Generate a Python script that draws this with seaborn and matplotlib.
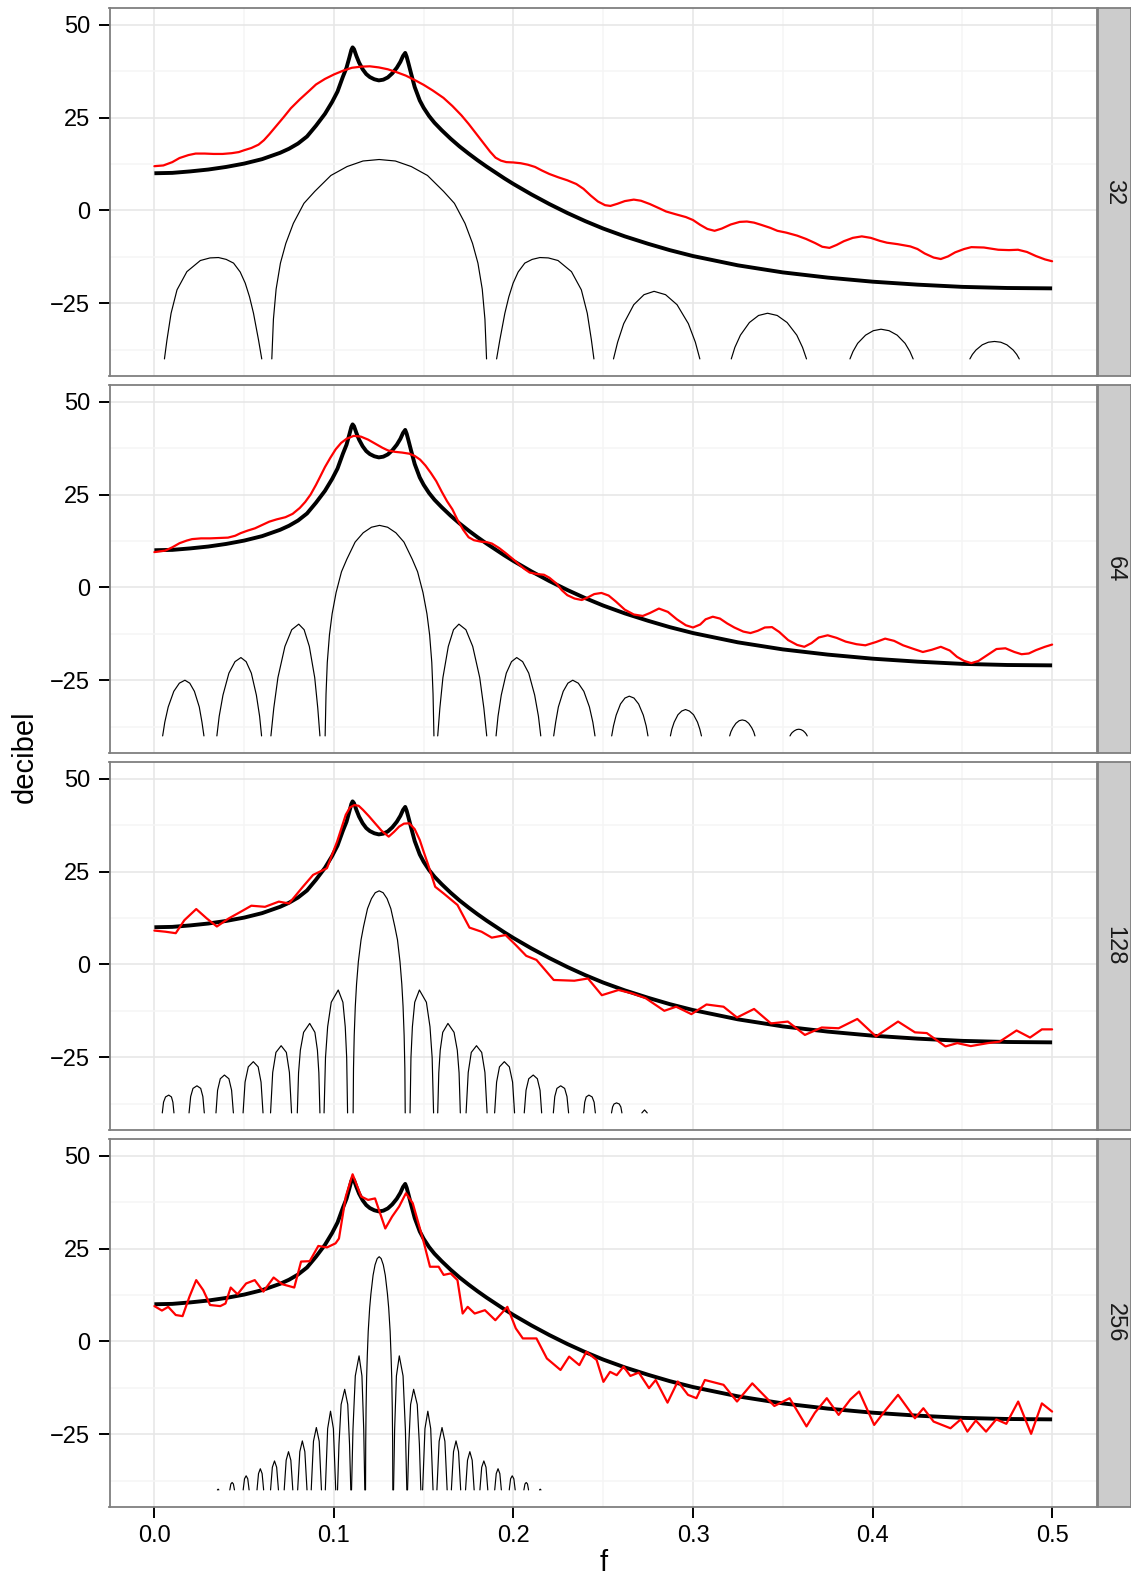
import numpy as np
import pandas as pd
import matplotlib
matplotlib.use("Agg")
import matplotlib.pyplot as plt
import seaborn as sns
from matplotlib.ticker import FixedLocator

sns.set_theme(style="white")
plt.rcParams['font.family'] = ['Liberation Sans', 'DejaVu Sans']

# ---------------- data ----------------
PANELS = ["32", "64", "128", "256"]

# true spectrum (thick black), identical in every panel
F_TRUE = [0.0, 0.01, 0.02, 0.03, 0.04, 0.05, 0.06, 0.07, 0.075, 0.08,
          0.085, 0.09, 0.095, 0.099, 0.102, 0.105, 0.107, 0.1085, 0.1097, 0.1104,
          0.1112, 0.1125, 0.114, 0.116, 0.118, 0.12, 0.1225, 0.125, 0.1275, 0.13,
          0.1325, 0.135, 0.137, 0.1385, 0.1397, 0.1405, 0.1415, 0.143, 0.145, 0.1478,
          0.15, 0.153, 0.156, 0.16, 0.165, 0.17, 0.175, 0.18, 0.185, 0.19,
          0.195, 0.2, 0.21, 0.22, 0.23, 0.24, 0.25, 0.262, 0.275, 0.287,
          0.3, 0.325, 0.35, 0.375, 0.4, 0.425, 0.45, 0.475, 0.5]
DB_TRUE = [10.0, 10.1, 10.5, 11.0, 11.7, 12.6, 13.8, 15.5, 16.6, 18.0,
           19.9, 22.8, 26.0, 29.2, 32.0, 36.0, 38.4, 41.0, 43.2, 43.9,
           43.4, 41.6, 39.8, 38.0, 36.7, 35.9, 35.3, 35.0, 35.2, 35.8,
           36.9, 38.4, 40.0, 41.6, 42.4, 41.4, 39.6, 36.8, 33.2, 29.6,
           27.6, 25.4, 23.6, 21.6, 19.3, 17.2, 15.3, 13.5, 11.8, 10.2,
           8.6, 7.1, 4.3, 1.7, -0.7, -2.9, -4.9, -7.0, -9.0, -10.7,
           -12.3, -14.8, -16.7, -18.1, -19.2, -20.0, -20.6, -20.9, -21.0]

# estimated spectra (red)
RED_F_32 = [0.0, 0.005, 0.01, 0.014, 0.019, 0.023, 0.028, 0.033, 0.038, 0.043,
            0.047, 0.05, 0.054, 0.058, 0.061, 0.064, 0.068, 0.072, 0.076, 0.081,
            0.086, 0.09, 0.095, 0.1, 0.105, 0.11, 0.115, 0.12, 0.125, 0.13,
            0.135, 0.14, 0.145, 0.15, 0.155, 0.161, 0.166, 0.171, 0.175, 0.179,
            0.183, 0.187, 0.19, 0.193, 0.196, 0.2, 0.204, 0.208, 0.212, 0.216,
            0.22, 0.225, 0.23, 0.235, 0.239, 0.243, 0.247, 0.251, 0.254, 0.258,
            0.262, 0.267, 0.271, 0.276, 0.281, 0.285, 0.29, 0.296, 0.3, 0.304,
            0.308, 0.312, 0.316, 0.321, 0.326, 0.33, 0.334, 0.338, 0.343, 0.347,
            0.352, 0.358, 0.363, 0.368, 0.372, 0.376, 0.38, 0.384, 0.389, 0.394,
            0.399, 0.404, 0.408, 0.414, 0.421, 0.425, 0.429, 0.434, 0.438, 0.442,
            0.446, 0.451, 0.455, 0.462, 0.47, 0.476, 0.481, 0.486, 0.491, 0.496, 0.5]
RED_DB_32 = [11.9, 12.1, 13.0, 14.1, 14.9, 15.3, 15.3, 15.2, 15.2, 15.4,
             15.7, 16.2, 16.8, 17.7, 18.9, 20.5, 22.8, 25.1, 27.5, 29.9,
             32.1, 33.9, 35.4, 36.6, 37.6, 38.4, 38.7, 38.8, 38.5, 38.0,
             37.2, 36.3, 35.1, 33.8, 32.3, 30.3, 28.1, 25.6, 23.3, 20.8,
             18.3, 15.8, 14.2, 13.4, 13.0, 12.9, 12.7, 12.3, 11.7, 10.7,
             9.8, 8.9, 8.1, 7.1, 5.8, 4.0, 2.4, 1.4, 1.2, 1.8,
             2.5, 2.9, 2.6, 1.7, 0.6, -0.3, -1.0, -1.8, -2.6, -3.9,
             -5.0, -5.5, -4.9, -3.8, -3.1, -3.0, -3.3, -3.9, -4.7, -5.5,
             -6.0, -6.8, -7.7, -8.8, -9.8, -10.1, -9.3, -8.3, -7.4, -7.0,
             -7.4, -8.2, -8.7, -9.1, -9.7, -10.4, -11.6, -12.7, -13.1, -12.4,
             -11.3, -10.4, -9.9, -10.0, -10.6, -10.7, -10.6, -11.2, -12.3, -13.2, -13.7]

RED_F_64 = [0.0, 0.006, 0.01, 0.014, 0.018, 0.021, 0.026, 0.031, 0.036, 0.041,
            0.045, 0.048, 0.052, 0.056, 0.06, 0.064, 0.068, 0.073, 0.077, 0.081,
            0.084, 0.087, 0.09, 0.092, 0.095, 0.098, 0.101, 0.104, 0.107, 0.111,
            0.115, 0.119, 0.123, 0.127, 0.13, 0.134, 0.138, 0.142, 0.145, 0.148,
            0.151, 0.154, 0.157, 0.16, 0.163, 0.166, 0.169, 0.172, 0.175, 0.178,
            0.182, 0.185, 0.188, 0.192, 0.196, 0.2, 0.203, 0.206, 0.209, 0.213,
            0.217, 0.22, 0.224, 0.227, 0.23, 0.234, 0.238, 0.241, 0.245, 0.249,
            0.253, 0.257, 0.262, 0.267, 0.272, 0.276, 0.281, 0.286, 0.291, 0.296,
            0.3, 0.304, 0.307, 0.311, 0.315, 0.319, 0.323, 0.328, 0.332, 0.336,
            0.34, 0.344, 0.348, 0.353, 0.358, 0.362, 0.366, 0.37, 0.375, 0.38,
            0.385, 0.391, 0.396, 0.402, 0.407, 0.412, 0.417, 0.423, 0.428, 0.433,
            0.438, 0.443, 0.447, 0.451, 0.455, 0.459, 0.464, 0.469, 0.474, 0.479,
            0.483, 0.487, 0.491, 0.496, 0.5]
RED_DB_64 = [9.5, 9.9, 10.8, 11.9, 12.6, 13.0, 13.2, 13.2, 13.3, 13.4,
             13.9, 14.6, 15.3, 15.9, 16.8, 17.7, 18.3, 18.9, 19.8, 21.4,
             23.0, 25.0, 27.6, 29.5, 32.4, 34.9, 37.2, 38.9, 40.0, 40.8,
             40.6, 39.8, 38.7, 37.6, 36.9, 36.5, 36.3, 36.0, 35.4, 34.4,
             32.8, 30.8, 28.6, 25.8, 23.2, 21.0, 18.0, 15.5, 13.5, 12.7,
             12.3, 12.2, 11.8, 10.6, 9.1, 7.5, 6.2, 5.0, 4.0, 3.6,
             3.4, 2.6, 1.0, -0.8, -2.1, -3.0, -3.4, -2.8, -1.8, -1.5,
             -2.2, -3.8, -6.0, -7.3, -7.7, -6.9, -5.7, -6.6, -8.6, -10.2,
             -10.8, -10.0, -8.6, -7.9, -8.4, -9.7, -10.8, -11.9, -12.3, -11.7,
             -10.8, -10.7, -12.0, -14.2, -15.5, -16.0, -15.0, -13.5, -12.9, -13.6,
             -14.6, -15.3, -15.6, -14.7, -13.8, -14.4, -15.6, -16.6, -17.4, -16.8,
             -16.0, -17.0, -18.7, -19.8, -20.4, -19.8, -18.2, -16.6, -16.4, -17.4,
             -18.0, -17.8, -16.9, -16.0, -15.4]

RED_F_128 = [0.0, 0.0061, 0.0119, 0.0167, 0.0233, 0.0291, 0.0348, 0.0415, 0.0482, 0.054,
             0.0616, 0.0693, 0.075, 0.0827, 0.0884, 0.0961, 0.1018, 0.1066, 0.109, 0.1114,
             0.1138, 0.1162, 0.1195, 0.1229, 0.1265, 0.1305, 0.1335, 0.1363, 0.139, 0.142,
             0.145, 0.1478, 0.150, 0.1525, 0.1564, 0.1611, 0.1688, 0.1755,
             0.1822, 0.1879, 0.1956, 0.2013, 0.2071, 0.2128, 0.2224, 0.2339, 0.2415, 0.2492,
             0.2585, 0.266, 0.2736, 0.284, 0.2906, 0.2991, 0.3075, 0.317, 0.3245, 0.334,
             0.3434, 0.3528, 0.3623, 0.3717, 0.3811, 0.3915, 0.4019, 0.4142, 0.4236, 0.4302,
             0.4406, 0.4472, 0.4547, 0.4642, 0.4708, 0.4802, 0.4877, 0.4943, 0.5]
RED_DB_128 = [9.1, 8.8, 8.4, 11.9, 14.9, 12.4, 10.2, 12.4, 14.2, 15.8,
              15.5, 16.9, 16.4, 20.9, 24.1, 25.9, 33.1, 40.3, 42.3, 42.9,
              42.7, 41.6, 39.9, 38.0, 36.0, 34.4, 35.7, 37.1, 37.9, 38.0,
              36.4, 33.5, 30.3, 26.8, 20.9, 19.1, 16.0, 9.9,
              8.8, 7.2, 7.9, 5.2, 2.3, 1.2, -4.2, -4.4, -3.8, -8.3,
              -6.9, -7.8, -9.1, -12.5, -11.4, -13.4, -10.8, -11.4, -14.3, -12.0,
              -15.9, -15.4, -19.0, -17.0, -17.2, -14.7, -19.4, -15.4, -18.3, -18.5,
              -22.1, -21.2, -22.0, -21.2, -20.8, -17.8, -19.7, -17.5, -17.5]

RED_F_256 = [0.0, 0.0042, 0.0077, 0.0119, 0.0157, 0.0195, 0.0233, 0.0272, 0.031, 0.0367,
             0.0396, 0.0425, 0.0463, 0.0511, 0.0559, 0.0607, 0.0664, 0.0712, 0.0779, 0.0817,
             0.0865, 0.0913, 0.0961, 0.1009, 0.1028, 0.1066, 0.1104, 0.1152, 0.119, 0.1229,
             0.1286, 0.1324, 0.1363, 0.1401, 0.1439, 0.1497, 0.1535, 0.1583, 0.1611, 0.165,
             0.1688, 0.1717, 0.1745, 0.1784, 0.1841, 0.1899, 0.1966, 0.2013, 0.2052, 0.2128,
             0.2186, 0.2262, 0.231, 0.2367, 0.2406, 0.2463, 0.2501, 0.2538, 0.2575, 0.2613,
             0.2651, 0.2698, 0.2755, 0.2792, 0.2858, 0.2915, 0.2972, 0.3019, 0.3066, 0.317,
             0.3245, 0.333, 0.3453, 0.3538, 0.3632, 0.3679, 0.3745, 0.3811, 0.3877, 0.3925,
             0.4009, 0.4066, 0.4142, 0.4236, 0.4283, 0.434, 0.4434, 0.4491, 0.4528, 0.4575,
             0.4632, 0.4689, 0.4745, 0.4811, 0.4883, 0.4943, 0.5]
RED_DB_256 = [9.5, 8.3, 9.3, 7.1, 6.8, 12.0, 16.5, 13.8, 9.8, 9.5,
              10.2, 14.5, 12.7, 15.6, 16.5, 13.4, 17.2, 15.4, 14.5, 21.5,
              21.6, 25.7, 25.3, 26.4, 27.7, 39.0, 45.0, 39.0, 38.1, 38.5,
              30.4, 33.6, 36.3, 39.9, 37.2, 27.3, 20.1, 20.1, 17.9, 18.3,
              16.5, 7.5, 9.3, 7.5, 8.4, 5.7, 9.3, 3.5, 0.8, 0.8,
              -4.6, -7.7, -4.1, -6.4, -2.8, -5.0, -10.9, -8.2, -9.1, -6.8,
              -9.3, -8.4, -12.6, -10.4, -16.5, -10.8, -14.4, -15.3, -10.4, -11.7,
              -16.2, -11.3, -17.4, -15.3, -22.9, -19.2, -15.3, -19.8, -15.6, -13.5,
              -22.5, -18.9, -14.4, -20.7, -18.0, -21.6, -23.4, -21.0, -24.3, -21.3,
              -24.3, -21.0, -22.2, -16.2, -24.9, -16.7, -18.9]

# spectral-window lobes (thin black), each lobe as (f, decibel) points, clipped at -40
KERNEL_32 = [
    [(0.0056, -40), (0.0070, -34.9), (0.0093, -27.7), (0.0126, -21.4), (0.0181, -16.5), (0.0256, -13.5),
     (0.0310, -12.8), (0.0357, -12.7), (0.0400, -13.2), (0.0441, -14.2), (0.0478, -16.6), (0.0506, -19.6),
     (0.0530, -23.3), (0.0552, -27.7), (0.0580, -34.9), (0.0598, -40)],
    [(0.0654, -40), (0.0663, -29.3), (0.0678, -21.2), (0.0702, -14.2), (0.0732, -8.9), (0.0774, -3.5),
     (0.0833, 1.9), (0.0893, 5.1), (0.0983, 9.4), (0.1073, 11.8), (0.1162, 13.3), (0.1252, 13.7),
     (0.1342, 13.3), (0.1431, 11.8), (0.1521, 9.4), (0.1611, 5.1), (0.1671, 1.9), (0.1730, -3.5),
     (0.1772, -8.9), (0.1802, -14.2), (0.1826, -21.2), (0.1841, -29.3), (0.1850, -40)],
    [(0.1906, -40), (0.1924, -34.9), (0.1952, -27.7), (0.1974, -23.3), (0.1998, -19.6), (0.2026, -16.6),
     (0.2063, -14.2), (0.2104, -13.2), (0.2147, -12.7), (0.2194, -12.8), (0.2248, -13.5), (0.2323, -16.5),
     (0.2378, -21.4), (0.2411, -27.7), (0.2434, -34.9), (0.2448, -40)],
    [(0.2557, -40), (0.2580, -35.5), (0.2614, -30.5), (0.2670, -25.4), (0.2727, -22.7), (0.2783, -21.8),
     (0.2847, -22.7), (0.2911, -25.4), (0.2974, -30.5), (0.3013, -35.5), (0.3038, -40)],
    [(0.3213, -40), (0.3233, -36.9), (0.3264, -33.6), (0.3314, -30.2), (0.3365, -28.3), (0.3415, -27.7),
     (0.3469, -28.3), (0.3524, -30.2), (0.3578, -33.6), (0.3610, -36.9), (0.3632, -40)],
    [(0.3874, -40), (0.3891, -38.0), (0.3917, -35.8), (0.3961, -33.6), (0.4004, -32.4), (0.4047, -32.0),
     (0.4092, -32.4), (0.4137, -33.6), (0.4181, -35.8), (0.4208, -38.0), (0.4226, -40)],
    [(0.4542, -40), (0.4556, -38.8), (0.4576, -37.6), (0.4611, -36.2), (0.4645, -35.5), (0.4679, -35.3),
     (0.4714, -35.5), (0.4748, -36.2), (0.4783, -37.6), (0.4803, -38.8), (0.4817, -40)],
]

KERNEL_64 = [
    [(0.0046, -40), (0.0058, -36.3), (0.0077, -32.2), (0.0108, -28.0), (0.0139, -25.8), (0.0170, -25.0),
     (0.0197, -25.8), (0.0223, -28.0), (0.0250, -32.2), (0.0265, -36.3), (0.0276, -40)],
    [(0.0348, -40), (0.0361, -34.7), (0.0382, -29.0), (0.0415, -23.1), (0.0449, -20.0), (0.0482, -18.9),
     (0.0511, -20.0), (0.0540, -23.1), (0.0568, -29.0), (0.0586, -34.7), (0.0597, -40)],
    [(0.0649, -40), (0.0665, -32.5), (0.0688, -24.3), (0.0727, -15.9), (0.0765, -11.4), (0.0804, -9.9),
     (0.0834, -11.4), (0.0863, -15.9), (0.0893, -24.3), (0.0910, -32.5), (0.0922, -40)],
    [(0.0951, -40), (0.0956, -28.7), (0.0963, -20.2), (0.0975, -12.8), (0.0990, -7.1), (0.1012, -1.4),
     (0.1042, 4.2), (0.1072, 7.6), (0.1118, 12.2), (0.1163, 14.7), (0.1209, 16.2), (0.1254, 16.7),
     (0.1299, 16.2), (0.1345, 14.7), (0.1390, 12.2), (0.1436, 7.6), (0.1466, 4.2), (0.1496, -1.4),
     (0.1518, -7.1), (0.1533, -12.8), (0.1545, -20.2), (0.1552, -28.7), (0.1557, -40)],
    [(0.1578, -40), (0.1590, -32.5), (0.1607, -24.3), (0.1637, -15.9), (0.1666, -11.4), (0.1696, -9.9),
     (0.1735, -11.4), (0.1773, -15.9), (0.1812, -24.3), (0.1835, -32.5), (0.1851, -40)],
    [(0.1903, -40), (0.1914, -34.7), (0.1932, -29.0), (0.1960, -23.1), (0.1989, -20.0), (0.2018, -18.9),
     (0.2051, -20.0), (0.2085, -23.1), (0.2118, -29.0), (0.2139, -34.7), (0.2152, -40)],
    [(0.2224, -40), (0.2235, -36.3), (0.2250, -32.2), (0.2277, -28.0), (0.2303, -25.8), (0.2330, -25.0),
     (0.2361, -25.8), (0.2392, -28.0), (0.2423, -32.2), (0.2442, -36.3), (0.2454, -40)],
    [(0.2547, -40), (0.2557, -37.3), (0.2572, -34.4), (0.2596, -31.4), (0.2621, -29.8), (0.2645, -29.3),
     (0.2671, -29.8), (0.2697, -31.4), (0.2723, -34.4), (0.2739, -37.3), (0.2749, -40)],
    [(0.2874, -40), (0.2882, -38.2), (0.2895, -36.3), (0.2916, -34.3), (0.2937, -33.3), (0.2958, -32.9),
     (0.2980, -33.3), (0.3003, -34.3), (0.3025, -36.3), (0.3038, -38.2), (0.3047, -40)],
    [(0.3204, -40), (0.3211, -38.9), (0.3222, -37.8), (0.3239, -36.6), (0.3257, -35.9), (0.3274, -35.7),
     (0.3292, -35.9), (0.3310, -36.6), (0.3327, -37.8), (0.3338, -38.9), (0.3345, -40)],
    [(0.3540, -40), (0.3545, -39.55), (0.3552, -39.1), (0.3565, -38.6), (0.3577, -38.3), (0.3589, -38.2),
     (0.3601, -38.3), (0.3613, -38.6), (0.3624, -39.1), (0.3631, -39.55), (0.3636, -40)],
]

KERNEL_128 = [
    [(0.0044, -40), (0.0051, -37.1), (0.0062, -35.7), (0.0080, -35.2), (0.0095, -35.7), (0.0103, -37.1), (0.0109, -40)],
    [(0.0193, -40), (0.0202, -35.6), (0.0215, -33.4), (0.0237, -32.7), (0.0258, -33.4), (0.0270, -35.6), (0.0278, -40)],
    [(0.0343, -40), (0.0352, -33.9), (0.0367, -30.8), (0.0390, -29.8), (0.0415, -30.8), (0.0430, -33.9), (0.0440, -40)],
    [(0.0494, -40), (0.0505, -31.7), (0.0523, -27.6), (0.0551, -26.2), (0.0578, -27.6), (0.0594, -31.7), (0.0605, -40)],
    [(0.0647, -40), (0.0659, -29.1), (0.0677, -23.7), (0.0706, -21.9), (0.0735, -23.7), (0.0752, -29.1), (0.0764, -40)],
    [(0.0796, -40), (0.0803, -29.2), (0.0813, -23.1), (0.0831, -18.3), (0.0865, -15.9), (0.0894, -18.3),
     (0.0908, -23.1), (0.0916, -29.2), (0.0922, -40)],
    [(0.0945, -40), (0.0953, -25.1), (0.0965, -16.8), (0.0985, -10.2), (0.1024, -6.9), (0.1050, -10.2),
     (0.1063, -16.8), (0.1071, -25.1), (0.1076, -40)],
    [(0.1107, -40), (0.1109, -28.0), (0.1113, -19.1), (0.1119, -11.3), (0.1126, -5.3), (0.1136, 0.7),
     (0.1151, 6.6), (0.1165, 10.2), (0.1187, 15.0), (0.1209, 17.7), (0.1230, 19.3), (0.1252, 19.8),
     (0.1274, 19.3), (0.1296, 17.7), (0.1317, 15.0), (0.1339, 10.2), (0.1354, 6.6), (0.1368, 0.7),
     (0.1378, -5.3), (0.1385, -11.3), (0.1391, -19.1), (0.1395, -28.0), (0.1397, -40)],
    [(0.1424, -40), (0.1429, -25.1), (0.1437, -16.8), (0.1450, -10.2), (0.1476, -6.9), (0.1515, -10.2),
     (0.1535, -16.8), (0.1547, -25.1), (0.1555, -40)],
    [(0.1578, -40), (0.1584, -29.2), (0.1592, -23.1), (0.1606, -18.3), (0.1635, -15.9), (0.1669, -18.3),
     (0.1687, -23.1), (0.1697, -29.2), (0.1704, -40)],
    [(0.1736, -40), (0.1748, -29.1), (0.1765, -23.7), (0.1794, -21.9), (0.1823, -23.7), (0.1841, -29.1), (0.1853, -40)],
    [(0.1895, -40), (0.1906, -31.7), (0.1922, -27.6), (0.1949, -26.2), (0.1977, -27.6), (0.1995, -31.7), (0.2006, -40)],
    [(0.2060, -40), (0.2070, -33.9), (0.2085, -30.8), (0.2110, -29.8), (0.2133, -30.8), (0.2148, -33.9), (0.2157, -40)],
    [(0.2222, -40), (0.2230, -35.6), (0.2242, -33.4), (0.2263, -32.7), (0.2285, -33.4), (0.2298, -35.6), (0.2307, -40)],
    [(0.2391, -40), (0.2397, -37.1), (0.2405, -35.7), (0.2420, -35.2), (0.2438, -35.7), (0.2449, -37.1), (0.2456, -40)],
    [(0.2546, -40), (0.2552, -38.4), (0.2560, -37.6), (0.2574, -37.3), (0.2589, -37.6), (0.2598, -38.4), (0.2604, -40)],
    [(0.2715, -40), (0.2730, -39.2), (0.2745, -40)],
]

KERNEL_256 = [
    [(0.0351, -40), (0.0355, -39.8), (0.0359, -40)],
    [(0.0420, -40), (0.0426, -38.4), (0.0433, -38.0), (0.0440, -38.4), (0.0446, -40)],
    [(0.04945, -40), (0.0502, -37.0), (0.0511, -36.2), (0.0520, -37.0), (0.05275, -40)],
    [(0.05715, -40), (0.0580, -35.6), (0.0590, -34.3), (0.0600, -35.6), (0.06085, -40)],
    [(0.0647, -40), (0.0657, -33.9), (0.0669, -32.2), (0.0681, -33.9), (0.0691, -40)],
    [(0.0723, -40), (0.0734, -32.0), (0.0747, -29.7), (0.0760, -32.0), (0.0771, -40)],
    [(0.0798, -40), (0.0810, -29.7), (0.0824, -26.8), (0.0838, -29.7), (0.0850, -40)],
    [(0.08735, -40), (0.0886, -26.9), (0.0902, -23.2), (0.0918, -26.9), (0.09305, -40)],
    [(0.0952, -40), (0.0965, -23.5), (0.0981, -18.8), (0.0997, -23.5), (0.1010, -40)],
    [(0.1020, -40), (0.1028, -27.8), (0.1040, -17.0), (0.1060, -12.9), (0.1077, -17.0), (0.1087, -27.8), (0.1094, -40)],
    [(0.1098, -40), (0.1106, -23.8), (0.1119, -9.3), (0.1140, -3.9), (0.1156, -9.3), (0.1166, -23.8), (0.1172, -40)],
    [(0.1176, -40), (0.1177, -27.4), (0.1179, -18.0), (0.1182, -9.9), (0.1186, -3.6), (0.1191, 2.7),
     (0.1199, 9.0), (0.1206, 12.8), (0.1218, 17.8), (0.1229, 20.6), (0.1241, 22.3), (0.1252, 22.8),
     (0.1263, 22.3), (0.1275, 20.6), (0.1286, 17.8), (0.1298, 12.8), (0.1305, 9.0), (0.1313, 2.7),
     (0.1318, -3.6), (0.1322, -9.9), (0.1325, -18.0), (0.1327, -27.4), (0.1328, -40)],
    [(0.1332, -40), (0.1338, -23.8), (0.1348, -9.3), (0.1364, -3.9), (0.1385, -9.3), (0.1398, -23.8), (0.1406, -40)],
    [(0.1410, -40), (0.1417, -27.8), (0.1427, -17.0), (0.1444, -12.9), (0.1464, -17.0), (0.1476, -27.8), (0.1484, -40)],
    [(0.1494, -40), (0.1507, -23.5), (0.1523, -18.8), (0.1539, -23.5), (0.1552, -40)],
    [(0.15735, -40), (0.1586, -26.9), (0.1602, -23.2), (0.1618, -26.9), (0.16305, -40)],
    [(0.1654, -40), (0.1666, -29.7), (0.1680, -26.8), (0.1694, -29.7), (0.1706, -40)],
    [(0.1733, -40), (0.1744, -32.0), (0.1757, -29.7), (0.1770, -32.0), (0.1781, -40)],
    [(0.1813, -40), (0.1823, -33.9), (0.1835, -32.2), (0.1847, -33.9), (0.1857, -40)],
    [(0.18955, -40), (0.1904, -35.6), (0.1914, -34.3), (0.1924, -35.6), (0.19325, -40)],
    [(0.19765, -40), (0.1984, -37.0), (0.1993, -36.2), (0.2002, -37.0), (0.20095, -40)],
    [(0.2058, -40), (0.2064, -38.4), (0.2071, -38.0), (0.2078, -38.4), (0.2084, -40)],
    [(0.2145, -40), (0.2149, -39.8), (0.2153, -40)],
]

RED_F = [RED_F_32, RED_F_64, RED_F_128, RED_F_256]
RED_DB = [RED_DB_32, RED_DB_64, RED_DB_128, RED_DB_256]
KERNELS = [KERNEL_32, KERNEL_64, KERNEL_128, KERNEL_256]

X_MAJOR = [0.0, 0.1, 0.2, 0.3, 0.4, 0.5]
X_LABELS = ["0.0", "0.1", "0.2", "0.3", "0.4", "0.5"]
X_MINOR = [0.05, 0.15, 0.25, 0.35, 0.45]
Y_MAJOR = [-25, 0, 25, 50]
Y_MINOR = [-37.5, -12.5, 12.5, 37.5]


def lobe_frame(lobes):
    rows = []
    for k, lobe in enumerate(lobes):
        for f, d in lobe:
            rows.append((k, f, d))
    return pd.DataFrame(rows, columns=["lobe", "f", "decibel"])


# ---------------- layout ----------------
W, H = 1131, 1578
fig = plt.figure(figsize=(W / 100, H / 100), dpi=100)
fig.patch.set_facecolor("white")

LEFT, RIGHT = 109.5, 1097.0
TOPS = [8, 385, 762, 1139]
PH = 368
STRIP_L, STRIP_R = 1098.0, 1131.0

for i, name in enumerate(PANELS):
    bottom = 1 - (TOPS[i] + PH) / H
    ax = fig.add_axes([LEFT / W, bottom, (RIGHT - LEFT) / W, PH / H])
    ax.set_facecolor("white")

    sns.lineplot(x=F_TRUE, y=DB_TRUE, color="black", linewidth=2.8, sort=False,
                 estimator=None, ax=ax, solid_joinstyle="round", solid_capstyle="butt")
    sns.lineplot(x=RED_F[i], y=RED_DB[i], color="#FF0000", linewidth=1.6, sort=False,
                 estimator=None, ax=ax, solid_joinstyle="round")
    kdf = lobe_frame(KERNELS[i])
    sns.lineplot(data=kdf, x="f", y="decibel", units="lobe", estimator=None, sort=False,
                 color="black", linewidth=0.85, ax=ax, legend=False,
                 solid_joinstyle="round")

    ax.set_xlim(-0.025, 0.525)
    ax.set_ylim(-44.6, 54.5)
    ax.set_xlabel("")
    ax.set_ylabel("")

    ax.xaxis.set_major_locator(FixedLocator(X_MAJOR))
    ax.xaxis.set_minor_locator(FixedLocator(X_MINOR))
    ax.yaxis.set_major_locator(FixedLocator(Y_MAJOR))
    ax.yaxis.set_minor_locator(FixedLocator(Y_MINOR))
    ax.set_xticklabels(X_LABELS)

    ax.set_axisbelow(True)
    ax.grid(which="major", color="#E6E6E6", linewidth=1.1)
    ax.grid(which="minor", color="#F5F5F5", linewidth=1.1)

    for sp in ax.spines.values():
        sp.set_color("#7F7F7F")
        sp.set_linewidth(1.3)

    ax.tick_params(axis="y", which="major", direction="out", length=8, width=1.4,
                   color="black", labelsize=17, pad=6, labelcolor="black", left=True)
    ax.tick_params(axis="both", which="minor", length=0)
    if i == len(PANELS) - 1:
        ax.tick_params(axis="x", which="major", direction="out", length=8, width=1.4,
                       color="black", labelsize=17, pad=5, labelcolor="black", bottom=True)
    else:
        ax.tick_params(axis="x", which="major", bottom=False, labelbottom=False)

    # facet strip on the right
    sax = fig.add_axes([STRIP_L / W, bottom, (STRIP_R - STRIP_L) / W, PH / H])
    sax.set_facecolor("#CCCCCC")
    sax.set_xticks([])
    sax.set_yticks([])
    for sp in sax.spines.values():
        sp.set_color("#7F7F7F")
        sp.set_linewidth(1.3)
    sax.text(0.5, 0.5, name, rotation=270, ha="center", va="center", fontsize=17,
             color="#1A1A1A", transform=sax.transAxes)

# axis titles
fig.text(25 / W, 1 - 757 / H, "decibel", rotation=90, ha="center", va="center",
         fontsize=21, color="black")
fig.text(((LEFT + RIGHT) / 2) / W, 1 - 1571 / H, "f", ha="center", va="baseline",
         fontsize=21, color="black")

fig.savefig("out.png", dpi=100, facecolor="white")
